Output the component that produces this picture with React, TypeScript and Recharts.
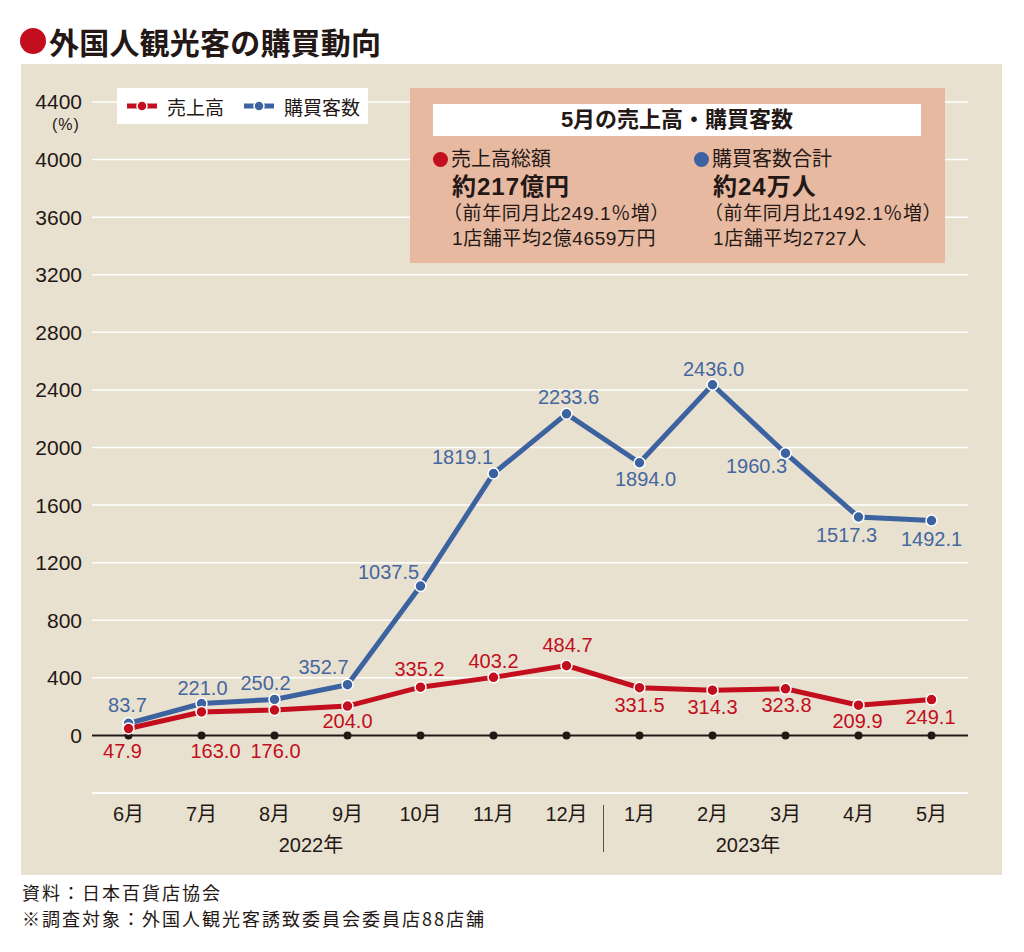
import React from "react";
import {
  LineChart,
  Line,
  XAxis,
  YAxis,
  CartesianGrid,
  ReferenceLine,
  ReferenceDot,
  LabelList,
  Legend,
} from "recharts";

const months = ["6月", "7月", "8月", "9月", "10月", "11月", "12月", "1月", "2月", "3月", "4月", "5月"];
const salesGrowth = [47.9, 163.0, 176.0, 204.0, 335.2, 403.2, 484.7, 331.5, 314.3, 323.8, 209.9, 249.1];
const buyerGrowth = [83.7, 221.0, 250.2, 352.7, 1037.5, 1819.1, 2233.6, 1894.0, 2436.0, 1960.3, 1517.3, 1492.1];
const yTicks = [0, 400, 800, 1200, 1600, 2000, 2400, 2800, 3200, 3600, 4000, 4400];

const RED = "#c20e1d";
const BLUE = "#3c62a0";
const INK = "#231815";
const FONT = '"Liberation Sans", "Noto Sans CJK JP", sans-serif';
const JP = '"Noto Sans CJK JP", sans-serif';

// label placement (dx, dy from the point to the label centre)
const buyerLabelPos = [
  [-1, -18], [1, -16], [-9, -16], [-24, -18], [-32, -14], [-31, -17],
  [2, -17], [6, 16], [1, -16], [-29, 13], [-12, 18], [0, 18],
];
const salesLabelPos = [
  [-6, 22], [14, 39], [1, 41], [0, 15], [-1, -18], [0, -16],
  [1, -21], [0, 17], [0, 17], [1, 16], [-1, 16], [-1, 17],
];

const data = months.map((m, i) => ({ month: m, sales: salesGrowth[i], buyers: buyerGrowth[i] }));

const makeLabel = (pos: number[][], color: string) => (p: any) => {
  const { x, y, index, value } = p;
  const [dx, dy] = pos[index] || [0, -16];
  return (
    <text
      x={x + dx}
      y={y + dy}
      textAnchor="middle"
      dominantBaseline="central"
      fill={color}
      fontSize={20}
      fontFamily={FONT}
    >
      {Number(value).toFixed(1)}
    </text>
  );
};

const LegendIcon = ({ color }: { color: string }) => (
  <svg width={34} height={12} style={{ marginRight: 8 }}>
    <line x1={2} y1={6} x2={32} y2={6} stroke={color} strokeWidth={5} />
    <circle cx={17} cy={6} r={5} fill={color} stroke="#fff" strokeWidth={1.5} />
  </svg>
);

const renderLegend = () => (
  <div
    style={{
      background: "#fff",
      width: 251,
      height: 36,
      display: "flex",
      alignItems: "center",
      paddingLeft: 8,
      boxSizing: "border-box",
      fontFamily: JP,
      fontSize: 19,
      color: INK,
    }}
  >
    <LegendIcon color={RED} />
    <span style={{ marginRight: 18 }}>売上高</span>
    <LegendIcon color={BLUE} />
    <span>購買客数</span>
  </div>
);

const InfoBox = () => (
  <div
    style={{
      position: "absolute",
      left: 410,
      top: 88,
      width: 535,
      height: 175,
      background: "#e8b9a1",
      fontFamily: FONT,
      color: INK,
    }}
  >
    <div
      style={{
        position: "absolute",
        left: 23,
        top: 16,
        width: 488,
        height: 32,
        background: "#fff",
        textAlign: "center",
        lineHeight: "32px",
        fontSize: 22,
        fontWeight: 700,
      }}
    >
      5月の売上高・購買客数
    </div>
    {[
      { left: 23, color: RED, title: "売上高総額", big: "約217億円", note: "（前年同月比249.1％増）", avg: "1店舗平均2億4659万円" },
      { left: 284, color: BLUE, title: "購買客数合計", big: "約24万人", note: "（前年同月比1492.1％増）", avg: "1店舗平均2727人" },
    ].map((c) => (
      <div key={c.title} style={{ position: "absolute", left: c.left, top: 57, width: 260, whiteSpace: "nowrap" }}>
        <div style={{ fontSize: 20, lineHeight: "28px", display: "flex", alignItems: "center" }}>
          <span
            style={{ display: "inline-block", width: 15, height: 15, borderRadius: "50%", background: c.color, marginRight: 3 }}
          />
          {c.title}
        </div>
        <div style={{ fontSize: 24, fontWeight: 700, lineHeight: "28px", marginLeft: 19, letterSpacing: 1 }}>{c.big}</div>
        <div style={{ fontSize: 19, lineHeight: "26px", marginLeft: 10, letterSpacing: 0.6 }}>{c.note}</div>
        <div style={{ fontSize: 19, lineHeight: "24px", marginLeft: 19, letterSpacing: 0.6 }}>{c.avg}</div>
      </div>
    ))}
  </div>
);

export default function App() {
  return (
    <div style={{ position: "absolute", left: 0, top: 0, width: 1024, height: 952, background: "#fff", fontFamily: FONT }}>
      <div
        style={{
          position: "absolute",
          left: 20,
          top: 19,
          fontFamily: JP,
          fontWeight: 700,
          fontSize: 30,
          color: INK,
          display: "flex",
          alignItems: "center",
          letterSpacing: 0.2,
        }}
      >
        <span style={{ display: "inline-block", width: 26, height: 26, borderRadius: "50%", background: RED, marginRight: 3 }} />
        外国人観光客の購買動向
      </div>

      <div style={{ position: "absolute", left: 21, top: 64, width: 981, height: 811, background: "#e9e1cf" }}>
        <LineChart width={981} height={811} data={data} margin={{ top: 38, right: 34, bottom: 52, left: 0 }}>
          <CartesianGrid vertical={false} stroke="#fff" strokeWidth={1.5} />
          <XAxis
            dataKey="month"
            height={30}
            padding={{ left: 36.5, right: 36.5 }}
            axisLine={false}
            tickLine={false}
            tickSize={0}
            tickMargin={14}
            interval={0}
            tick={{ fill: INK, fontSize: 20, fontFamily: FONT }}
          />
          <YAxis
            domain={[-400, 4400]}
            ticks={yTicks}
            width={71}
            axisLine={false}
            tickLine={false}
            tickSize={0}
            tickMargin={10}
            tick={{ fill: INK, fontSize: 21, fontFamily: FONT }}
          />
          <ReferenceLine y={-400} stroke="#fff" strokeWidth={1.5} />
          <ReferenceLine y={0} stroke={INK} strokeWidth={2} />
          {months.map((m) => (
            <ReferenceDot key={m} x={m} y={0} r={4} fill={INK} stroke="none" />
          ))}
          <Legend
            layout="vertical"
            align="center"
            verticalAlign="middle"
            content={renderLegend}
            wrapperStyle={{ left: 96, top: 24, width: 251, height: 36 }}
          />
          <Line
            dataKey="buyers"
            name="購買客数"
            stroke={BLUE}
            strokeWidth={5}
            dot={{ r: 5.5, fill: BLUE, stroke: "#fff", strokeWidth: 1.5 }}
            activeDot={false}
            isAnimationActive={false}
          >
            <LabelList dataKey="buyers" content={makeLabel(buyerLabelPos, "#4467a0")} />
          </Line>
          <Line
            dataKey="sales"
            name="売上高"
            stroke={RED}
            strokeWidth={5}
            dot={{ r: 5.5, fill: RED, stroke: "#fff", strokeWidth: 1.5 }}
            activeDot={false}
            isAnimationActive={false}
          >
            <LabelList dataKey="sales" content={makeLabel(salesLabelPos, RED)} />
          </Line>
        </LineChart>

        <div style={{ position: "absolute", left: 31, top: 52, fontSize: 16, lineHeight: "18px", color: INK, fontFamily: FONT, letterSpacing: 1 }}>(%)</div>
        <div style={{ position: "absolute", left: 290, top: 765, width: 0, fontSize: 20, color: INK, whiteSpace: "nowrap", display: "flex", justifyContent: "center" }}>
          2022年
        </div>
        <div style={{ position: "absolute", left: 727, top: 765, width: 0, fontSize: 20, color: INK, whiteSpace: "nowrap", display: "flex", justifyContent: "center" }}>
          2023年
        </div>
        <div style={{ position: "absolute", left: 582, top: 741, width: 1, height: 47, background: "#5a504a" }} />
      </div>

      <InfoBox />

      <div style={{ position: "absolute", left: 22, top: 879, fontFamily: JP, fontSize: 18, lineHeight: "26px", letterSpacing: 2, color: INK }}>
        <div>資料：日本百貨店協会</div>
        <div>※調査対象：外国人観光客誘致委員会委員店88店舗</div>
      </div>
    </div>
  );
}
